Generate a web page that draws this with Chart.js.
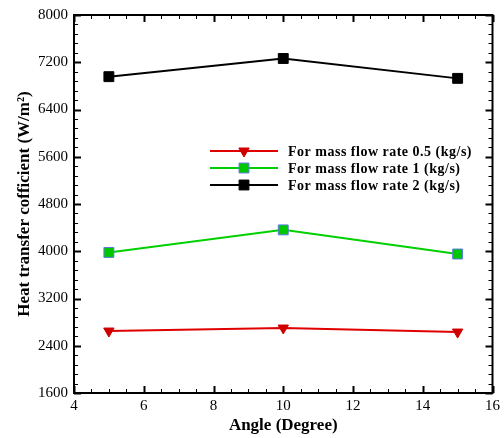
<!DOCTYPE html>
<html>
<head>
<meta charset="utf-8">
<script src="https://cdn.jsdelivr.net/npm/chart.js"></script>
<style>
  html, body { margin: 0; padding: 0; background: #fff; }
  #c { display: block; }
</style>
</head>
<body>
<canvas id="c" width="504" height="438"></canvas>
<script>
// angles on the x axis
const angles = [5, 10, 15];
// heat transfer coefficient per mass flow rate
const flow05 = [2649, 2700, 2632];
const flow1 = [3980, 4362, 3953];
const flow2 = [6956, 7264, 6927];
const seriesLabels = [
  "For mass flow rate 0.5 (kg/s)",
  "For mass flow rate 1 (kg/s)",
  "For mass flow rate 2 (kg/s)",
];

const serif = "'Liberation Serif', 'Times New Roman', serif";

function pts(ys) {
  return angles.map((x, i) => ({ x: x, y: ys[i] }));
}

// frame with inward ticks on all four sides
const framePlugin = {
  id: "frame",
  beforeDatasetsDraw(chart) {
    const { ctx, chartArea: a, scales } = chart;
    const xs = scales.x, ys = scales.y;
    ctx.save();
    ctx.strokeStyle = "#000";
    ctx.lineWidth = 2;
    ctx.strokeRect(a.left, a.top, a.right - a.left, a.bottom - a.top);

    // x ticks: major every 2, minor every 0.5
    for (let v = xs.min; v <= xs.max + 1e-9; v += 0.5) {
      const px = Math.round(xs.getPixelForValue(v)) + 0.5;
      const major = Math.abs(v / 2 - Math.round(v / 2)) < 1e-6;
      const len = major ? 7 : 4;
      ctx.lineWidth = major ? 2 : 1;
      ctx.beginPath();
      ctx.moveTo(px, a.bottom); ctx.lineTo(px, a.bottom - len);
      ctx.moveTo(px, a.top); ctx.lineTo(px, a.top + len);
      ctx.stroke();
    }
    // y ticks: major every 800, minor every 160
    for (let v = ys.min; v <= ys.max + 1e-6; v += 160) {
      const py = Math.round(ys.getPixelForValue(v)) + 0.5;
      const major = Math.abs((v - ys.min) / 800 - Math.round((v - ys.min) / 800)) < 1e-6;
      const len = major ? 7 : 4;
      ctx.lineWidth = major ? 2 : 1;
      ctx.beginPath();
      ctx.moveTo(a.left, py); ctx.lineTo(a.left + len, py);
      ctx.moveTo(a.right, py); ctx.lineTo(a.right - len, py);
      ctx.stroke();
    }
    ctx.restore();
  },
  afterDatasetsDraw(chart) {
    // legend inside the plot
    const { ctx, chartArea: a } = chart;
    const x0 = a.left + 136, x1 = a.left + 204, tx = a.left + 214;
    let y = a.top + 136;
    ctx.save();
    chart.data.datasets.forEach((ds) => {
      ctx.strokeStyle = ds.borderColor;
      ctx.lineWidth = 2;
      ctx.beginPath();
      ctx.moveTo(x0, y); ctx.lineTo(x1, y);
      ctx.stroke();
      ctx.fillStyle = ds.pointBackgroundColor;
      ctx.strokeStyle = ds.pointBorderColor;
      ctx.lineWidth = ds.pointBorderWidth;
      Chart.helpers.drawPoint(ctx, {
        pointStyle: ds.pointStyle,
        rotation: ds.pointRotation || 0,
        radius: ds.pointRadius,
        borderWidth: ds.pointBorderWidth,
      }, (x0 + x1) / 2, y);
      ctx.fillStyle = "#000";
      ctx.font = "bold 14px " + serif;
      ctx.letterSpacing = "0.5px";
      ctx.textBaseline = "middle";
      ctx.textAlign = "left";
      ctx.fillText(ds.label, tx, y + 1);
      y += 17;
    });
    ctx.restore();
  },
};

new Chart(document.getElementById("c"), {
  type: "line",
  data: {
    datasets: [
      {
        label: seriesLabels[0],
        data: pts(flow05),
        borderColor: "#e00000",
        pointBackgroundColor: "#d00000",
        pointBorderColor: "#d00000",
        pointBorderWidth: 1,
        pointStyle: "triangle",
        pointRotation: 180,
        pointRadius: 6,
        borderWidth: 2,
      },
      {
        label: seriesLabels[1],
        data: pts(flow1),
        borderColor: "#00d000",
        pointBackgroundColor: "#00c800",
        pointBorderColor: "#5a7ae0",
        pointBorderWidth: 1,
        pointStyle: "rect",
        pointRadius: 7,
        borderWidth: 2,
      },
      {
        label: seriesLabels[2],
        data: pts(flow2),
        borderColor: "#000",
        pointBackgroundColor: "#000",
        pointBorderColor: "#000",
        pointBorderWidth: 1,
        pointStyle: "rect",
        pointRadius: 7,
        borderWidth: 2,
      },
    ],
  },
  options: {
    responsive: false,
    animation: false,
    devicePixelRatio: 1,
    layout: { padding: { left: 0, top: 13, right: 8, bottom: 0 } },
    plugins: { legend: { display: false }, tooltip: { enabled: false } },
    scales: {
      x: {
        type: "linear",
        min: 4,
        max: 16,
        afterFit(s) { s.height = 45; },
        grid: { display: false, drawTicks: false },
        border: { display: false },
        ticks: { stepSize: 2, padding: 4, color: "#000", font: { family: serif, size: 15 } },
        title: {
          display: true,
          text: "Angle (Degree)",
          color: "#000",
          font: { family: serif, size: 17, weight: "bold" },
          padding: { top: 0, bottom: 2 },
        },
      },
      y: {
        min: 1600,
        max: 8000,
        afterFit(s) { s.width = 74; },
        grid: { display: false, drawTicks: false },
        border: { display: false },
        ticks: {
          stepSize: 800,
          padding: 6,
          color: "#000",
          font: { family: serif, size: 15 },
          callback: (v) => String(v),
        },
        title: {
          display: true,
          text: "Heat transfer cofficient (W/m²)",
          color: "#000",
          font: { family: serif, size: 17, weight: "bold" },
          padding: { top: 14, bottom: 0 },
        },
      },
    },
  },
  plugins: [framePlugin],
});
</script>
</body>
</html>
